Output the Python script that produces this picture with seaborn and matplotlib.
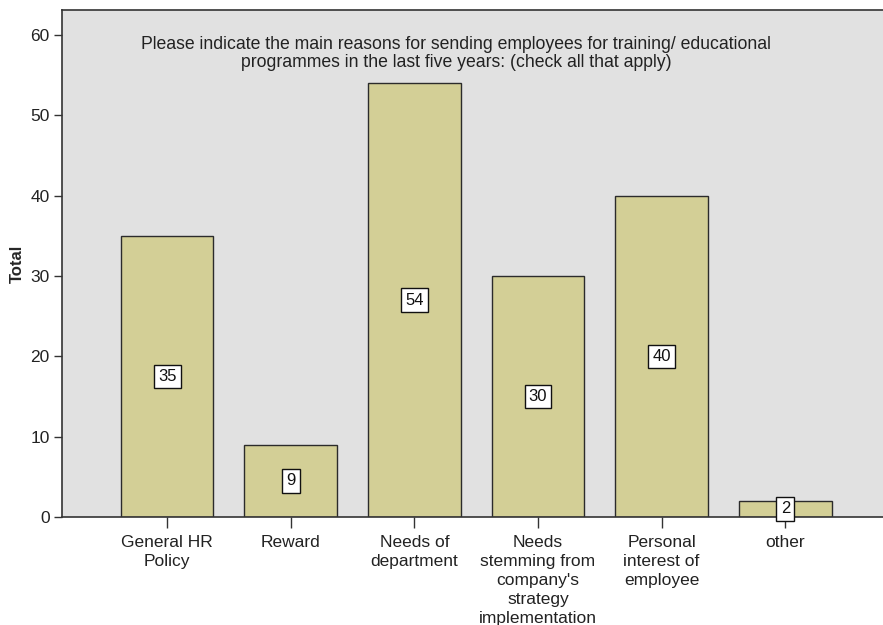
import matplotlib
matplotlib.use("Agg")
import matplotlib.pyplot as plt
import seaborn as sns
import pandas as pd

categories = [
    "General HR\nPolicy",
    "Reward",
    "Needs of\ndepartment",
    "Needs\nstemming from\ncompany's\nstrategy\nimplementation",
    "Personal\ninterest of\nemployee",
    "other",
]
totals = [35, 9, 54, 30, 40, 2]
yticks = [0, 10, 20, 30, 40, 50, 60]
title_text = ("Please indicate the main reasons for sending employees for training/ educational\n"
              "programmes in the last five years: (check all that apply)")

df = pd.DataFrame({"reason": categories, "total": totals})

sns.set_theme(style="ticks")
plt.rcParams["font.family"] = ["Liberation Sans", "DejaVu Sans"]

fig = plt.figure(figsize=(8.83, 6.25), dpi=100)
ax = fig.add_axes([62 / 883, 1 - 517 / 625, 1 - 62 / 883, (517 - 10) / 625])
ax.set_facecolor("#E1E1E1")

sns.barplot(data=df, x="reason", y="total", color="#D3CF96", saturation=1,
            width=0.75, edgecolor="#2b2b2b", linewidth=1.0, ax=ax, zorder=2)

ax.set_xlim(-0.85, 5.79)
ax.set_ylim(0, 63.1)
ax.set_yticks(yticks)
ax.set_yticklabels([str(t) for t in yticks], fontsize=12.5, color="#222222")
ax.tick_params(axis="y", length=6, width=1, color="#333333", pad=3)
ax.tick_params(axis="x", length=8, width=1, color="#333333", pad=5, labelsize=12.5,
               labelcolor="#222222")
for lbl in ax.get_xticklabels():
    lbl.set_linespacing(1.33)

ax.set_xlabel("")
ax.set_ylabel("Total", fontsize=12, fontweight="bold", labelpad=4)

for side in ["left", "top", "bottom"]:
    ax.spines[side].set_color("#333333")
    ax.spines[side].set_linewidth(1.2)
ax.spines["right"].set_visible(False)

for i, v in enumerate(totals):
    ax.text(i, v / 2, str(v), ha="center", va="center", fontsize=12, color="#111111",
            zorder=4,
            bbox=dict(boxstyle="square,pad=0.25", facecolor="white",
                      edgecolor="#111111", linewidth=1.0))

ax.text((456 - 62) / (883 - 62), 1 - (53.5 - 10) / (517 - 10), title_text,
        transform=ax.transAxes, ha="center", va="center", fontsize=12.7,
        color="#222222", linespacing=1.15, multialignment="center")

fig.savefig("out.png", dpi=100)
